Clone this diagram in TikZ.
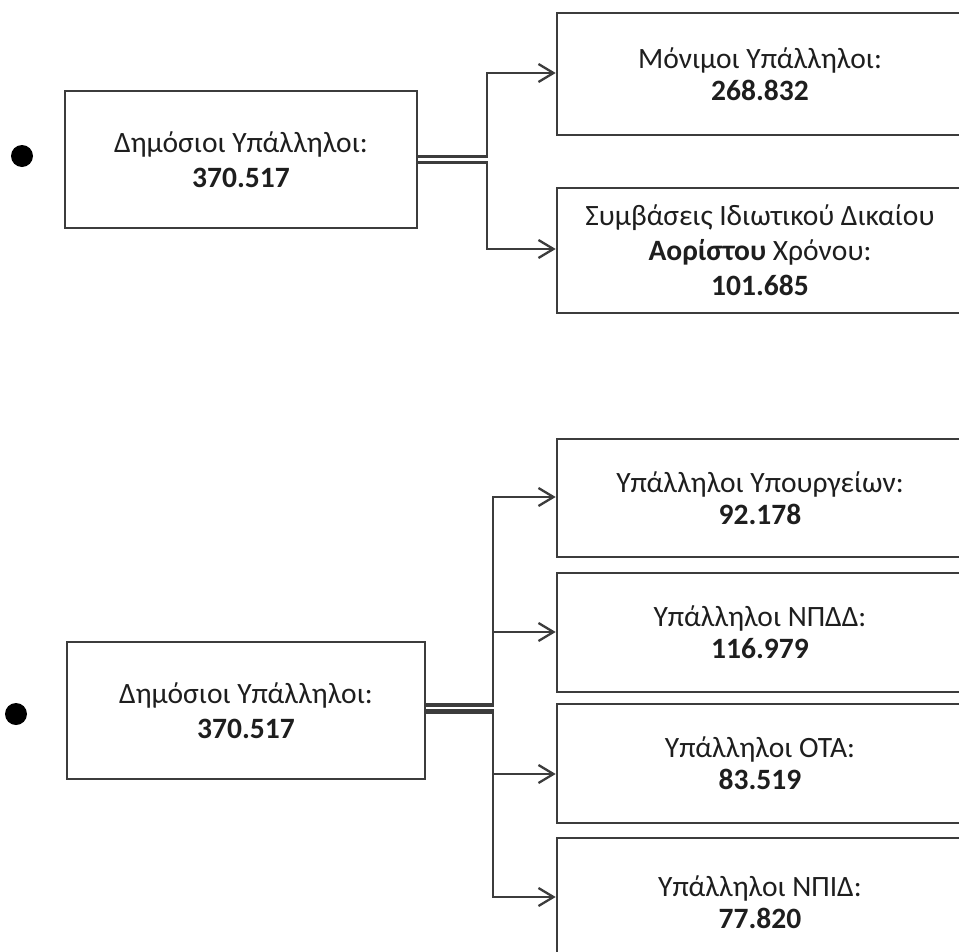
\documentclass[tikz,border=0pt]{standalone}
\usepackage{fontspec}
\setmainfont{Carlito}
\usetikzlibrary{arrows.meta}
\definecolor{ln}{HTML}{3c3c3c}
\definecolor{tx}{HTML}{1e1e1e}
\begin{document}
\begin{tikzpicture}[x=1pt,y=-1pt,
  box/.style={draw=ln, line width=2.6pt, fill=white, inner sep=0pt, align=center,
    font=\fontsize{29.5}{32}\selectfont, text=tx},
  widebox/.style={box, font=\fontsize{29.5}{35}\selectfont},
  conn/.style={draw=ln, line width=2.3pt, -{Straight Barb[length=15pt,width=18pt,line width=2.3pt]}},
  bullet/.style={circle, fill=black, minimum size=22pt, inner sep=0pt}]
\clip (0,0) rectangle (959,951);
\fill[white] (0,0) rectangle (959,951);
% top group
\node[bullet] (dot1) at (22,156) {};
\node[widebox, minimum width=352pt, minimum height=137pt] (A) at (241,159.5)
  {Δημόσιοι Υπάλληλοι:\\\textbf{370.517}};
\node[box, minimum width=406pt, minimum height=122pt] (B) at (760,74)
  {Μόνιμοι Υπάλληλοι:\\\textbf{268.832}};
\node[widebox, minimum width=406pt, minimum height=125pt] (C) at (760,250.5)
  {Συμβάσεις Ιδιωτικού Δικαίου\\\textbf{Αορίστου} Χρόνου:\\\textbf{101.685}};
\draw[conn] ([yshift=3pt]A.east) -- ++(69,0) |- ([yshift=1pt]B.west);
\draw[conn] ([yshift=-3pt]A.east) -- ++(69,0) |- ([yshift=1.5pt]C.west);
% bottom group
\node[bullet] (dot2) at (16,714) {};
\node[widebox, minimum width=358pt, minimum height=137pt] (D) at (246,710.5)
  {Δημόσιοι Υπάλληλοι:\\\textbf{370.517}};
\node[box, minimum width=406pt, minimum height=118pt] (E) at (760,498)
  {Υπάλληλοι Υπουργείων:\\\textbf{92.178}};
\node[box, minimum width=406pt, minimum height=119pt] (F) at (760,632.5)
  {Υπάλληλοι ΝΠΔΔ:\\\textbf{116.979}};
\node[box, minimum width=406pt, minimum height=119pt] (G) at (760,763.5)
  {Υπάλληλοι ΟΤΑ:\\\textbf{83.519}};
\node[box, minimum width=406pt, minimum height=128pt] (H) at (760,902)
  {Υπάλληλοι ΝΠΙΔ:\\\textbf{77.820}};
\draw[conn] ([yshift=6pt]D.east) -- ++(67,0) |- ([yshift=1pt]E.west);
\draw[conn] ([yshift=4.5pt]D.east) -- ++(67,0) |- ([yshift=0.5pt]F.west);
\draw[conn] ([yshift=0pt]D.east) -- ++(67,0) |- ([yshift=-10.5pt]G.west);
\draw[conn] ([yshift=-2pt]D.east) -- ++(67,0) |- ([yshift=5pt]H.west);
\end{tikzpicture}
\end{document}
